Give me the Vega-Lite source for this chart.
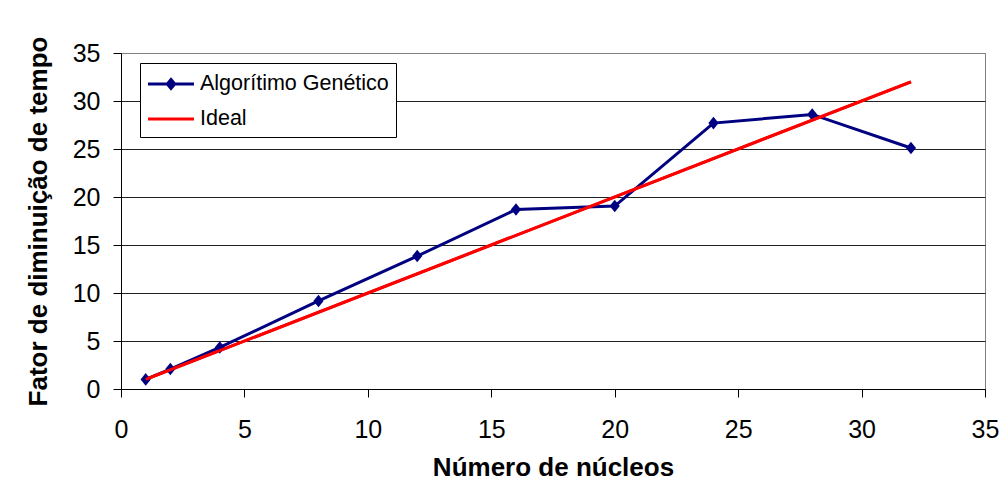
{
  "$schema": "https://vega.github.io/schema/vega-lite/v6.json",
  "width": 864,
  "height": 336,
  "autosize": "none",
  "padding": {"left": 121, "top": 53, "right": 21, "bottom": 95},
  "background": "white",
  "config": {
    "view": {"stroke": "#808080", "strokeWidth": 1},
    "font": "Liberation Sans"
  },
  "data": {
    "values": [
      {"series": "Algorítimo Genético", "x": 1, "y": 1.0},
      {"series": "Algorítimo Genético", "x": 2, "y": 2.08},
      {"series": "Algorítimo Genético", "x": 4, "y": 4.33},
      {"series": "Algorítimo Genético", "x": 8, "y": 9.17},
      {"series": "Algorítimo Genético", "x": 12, "y": 13.85},
      {"series": "Algorítimo Genético", "x": 16, "y": 18.7},
      {"series": "Algorítimo Genético", "x": 20, "y": 19.06},
      {"series": "Algorítimo Genético", "x": 24, "y": 27.7},
      {"series": "Algorítimo Genético", "x": 28, "y": 28.6},
      {"series": "Algorítimo Genético", "x": 32, "y": 25.1},
      {"series": "Ideal", "x": 1, "y": 1},
      {"series": "Ideal", "x": 32, "y": 32}
    ]
  },
  "encoding": {
    "x": {
      "field": "x",
      "type": "quantitative",
      "scale": {"domain": [0, 35], "nice": false, "zero": false},
      "axis": {
        "values": [0, 5, 10, 15, 20, 25, 30, 35],
        "title": "Número de núcleos",
        "titleFont": "Liberation Sans",
        "titleFontSize": 26,
        "titleFontWeight": "bold",
        "titleColor": "black",
        "titlePadding": 12,
        "labelFont": "Liberation Sans",
        "labelFontSize": 25,
        "labelColor": "black",
        "labelPadding": 20,
        "labelFlush": false,
        "domainColor": "black",
        "tickColor": "black",
        "tickSize": 8,
        "grid": false
      }
    },
    "y": {
      "field": "y",
      "type": "quantitative",
      "scale": {"domain": [0, 35], "nice": false, "zero": false},
      "axis": {
        "values": [0, 5, 10, 15, 20, 25, 30, 35],
        "title": "Fator de diminuição de tempo",
        "titleFont": "Liberation Sans",
        "titleFontSize": 26,
        "titleFontWeight": "bold",
        "titleColor": "black",
        "titlePadding": 21,
        "labelFont": "Liberation Sans",
        "labelFontSize": 25,
        "labelColor": "black",
        "labelPadding": 13,
        "labelFlush": false,
        "domainColor": "black",
        "tickColor": "black",
        "tickSize": 8,
        "grid": true,
        "gridColor": {"condition": {"test": "datum.value === 35", "value": "#808080"}, "value": "#222222"},
        "gridWidth": 1
      }
    }
  },
  "layer": [
    {
      "mark": {"type": "line", "strokeWidth": 3},
      "encoding": {
        "color": {
          "field": "series",
          "type": "nominal",
          "scale": {"domain": ["Algorítimo Genético", "Ideal"], "range": ["#000080", "#FF0000"]},
          "legend": {
            "orient": "none",
            "legendX": 19,
            "legendY": 10,
            "title": null,
            "direction": "vertical",
            "fillColor": "white",
            "strokeColor": "black",
            "padding": 7,
            "cornerRadius": 0,
            "labelFont": "Liberation Sans",
            "labelFontSize": 21.5,
            "labelColor": "black",
            "labelLimit": 400,
            "symbolType": "stroke",
            "symbolSize": 625,
            "symbolStrokeWidth": 3,
            "rowPadding": 10,
            "labelOffset": 15,
            "symbolOffset": 10,
            "encode": {
              "symbols": {
                "update": {
                  "shape": {"signal": "datum.value === 'Ideal' ? 'M-1.84,0H1.84' : 'M-1.84,0H1.84M0,-0.36L0.3,0L0,0.36L-0.3,0Z'"},
                  "fill": {"signal": "datum.value === 'Ideal' ? 'transparent' : '#000080'"}
                }
              }
            }
          }
        }
      }
    },
    {
      "transform": [{"filter": "datum.series === 'Algorítimo Genético'"}],
      "mark": {"type": "point", "filled": true, "opacity": 1, "color": "#000080", "size": 144, "shape": "M0,-1.05L0.85,0L0,1.05L-0.85,0Z"},
      "encoding": {}
    },
    {
      "transform": [{"filter": "datum.series === 'Ideal'"}],
      "mark": {"type": "line", "strokeWidth": 3, "color": "#FF0000"},
      "encoding": {}
    }
  ]
}
